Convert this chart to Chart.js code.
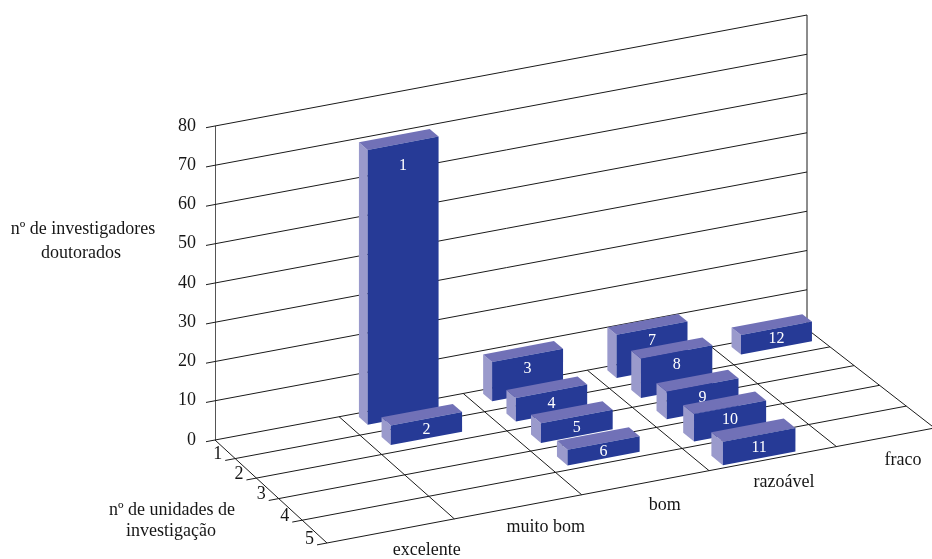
<!DOCTYPE html>
<html>
<head>
<meta charset="utf-8">
<script src="https://cdn.jsdelivr.net/npm/chart.js@4.4.1/dist/chart.umd.min.js"></script>
<style>
  html, body { margin: 0; padding: 0; background: #ffffff; }
  canvas { display: block; }
</style>
</head>
<body>
<canvas id="chart" width="932" height="559"></canvas>
<script>
// Quality ratings laid out across the floor
const ratings = ['excelente', 'muito bom', 'bom', 'razoável', 'fraco'];
// Depth ticks: position of a research unit within its rating
const unitCountTicks = [1, 2, 3, 4, 5];
// Value ticks on the back wall
const researcherTicks = [0, 10, 20, 30, 40, 50, 60, 70, 80];
// One entry per research unit
const unitLabels = ['1', '2', '3', '4', '5', '6', '7', '8', '9', '10', '11', '12'];
const unitRating = [0, 0, 1, 1, 1, 1, 2, 2, 2, 2, 2, 3];
const unitRank = [1, 2, 1, 2, 3, 4, 1, 2, 3, 4, 5, 1];
const doctoralResearchers = [70, 5, 10, 6, 5, 4, 11, 10, 7, 7, 6, 5];

// ---- drawing style / projection settings ----
const FONT = '"Liberation Serif", "Times New Roman", serif';
const INK = '#161616';
const LINE = '#1a1a1a';
const FLOOR_U = 4.77;            // floor width in strip units
const WALL_SLOPE = -0.1875;      // rise of horizontal edges per pixel
const DEPTH_L = [22.4, 20.6];    // screen offset per depth row, left edge
const DEPTH_R = [25.5, 19.8];    // screen offset per depth row, right edge
const PERSP = 0.12;              // rows grow slightly toward the viewer
const ROWS = 5;
const STRIP_SHIFT = 1;           // bars stand one strip to the right of their rating label
const BAR = { inset: 0.13, width: 0.57, front: 0.4, drift: 0.075, depth: 0.42 };
const FACE = { front: '#263a96', top: '#7171b7', side: '#9a9acc' };
const LABEL_SPREAD = 0.93;       // spacing of rating labels, in strips
const LABEL_START = 0.13;

function depthScreen(t) {
  return (1 - PERSP) * t / (1 - PERSP * t / ROWS);
}

function project(chart, u, t, v) {
  const xs = chart.scales.x, ys = chart.scales.y;
  const base = ys.getPixelForValue(0);
  const x0 = xs.getPixelForValue(u);
  const y0 = base + WALL_SLOPE * (x0 - xs.left);
  const f = u / FLOOR_U;
  const dx = DEPTH_L[0] + (DEPTH_R[0] - DEPTH_L[0]) * f;
  const dy = DEPTH_L[1] + (DEPTH_R[1] - DEPTH_L[1]) * f;
  const s = depthScreen(t);
  return { x: x0 + s * dx, y: y0 + s * dy - (base - ys.getPixelForValue(v)) };
}

function seg(ctx, a, b) {
  ctx.beginPath();
  ctx.moveTo(a.x, a.y);
  ctx.lineTo(b.x, b.y);
  ctx.stroke();
}

function poly(ctx, pts, fill) {
  ctx.beginPath();
  ctx.moveTo(pts[0].x, pts[0].y);
  for (let i = 1; i < pts.length; i++) ctx.lineTo(pts[i].x, pts[i].y);
  ctx.closePath();
  ctx.fillStyle = fill;
  ctx.fill();
}

const box3d = {
  id: 'box3d',
  beforeDatasetsDraw(chart) {
    const ctx = chart.ctx;
    ctx.save();
    ctx.strokeStyle = LINE;
    ctx.lineWidth = 1;

    // back wall gridlines, each with a short tick past the value axis
    researcherTicks.forEach(v => {
      const a = project(chart, 0, 0, v);
      const b = project(chart, FLOOR_U, 0, v);
      seg(ctx, { x: a.x - 9, y: a.y - WALL_SLOPE * 9 }, b);
    });
    // right edge of the wall
    seg(ctx, project(chart, FLOOR_U, 0, researcherTicks[researcherTicks.length - 1]), project(chart, FLOOR_U, 0, 0));

    // floor: depth rows with ticks, side edges, strip dividers
    unitCountTicks.forEach(t => {
      const a = project(chart, 0, t, 0);
      const b = project(chart, FLOOR_U, t, 0);
      seg(ctx, { x: a.x - 10, y: a.y - WALL_SLOPE * 10 }, b);
    });
    seg(ctx, project(chart, 0, 0, 0), project(chart, 0, ROWS, 0));
    seg(ctx, project(chart, FLOOR_U, 0, 0), project(chart, FLOOR_U, ROWS, 0));
    for (let k = 1; k < ratings.length; k++) {
      seg(ctx, project(chart, k, 0, 0), project(chart, k, ROWS, 0));
    }

    ctx.fillStyle = INK;
    ctx.font = '18px ' + FONT;

    // depth tick labels
    ctx.textAlign = 'right';
    ctx.textBaseline = 'middle';
    unitCountTicks.forEach(t => {
      const a = project(chart, 0, t, 0);
      ctx.fillText(String(t), a.x - 13, a.y - 4);
    });

    // rating labels in front of the floor
    ctx.textAlign = 'center';
    ratings.forEach((name, i) => {
      const uc = LABEL_START + (i + 0.5) * LABEL_SPREAD;
      const p = project(chart, uc, ROWS + 0.9, 0);
      ctx.fillText(name, p.x, p.y);
    });

    // axis titles
    const area = chart.chartArea;
    ctx.fillText('nº de investigadores', area.left - 132, 229);
    ctx.fillText('doutorados', area.left - 134, 253);
    ctx.fillText('nº de unidades de', area.left - 43, 510);
    ctx.fillText('investigação', area.left - 44, 531);
    ctx.restore();
  },
  afterDatasetsDraw(chart) {
    const ctx = chart.ctx;
    ctx.save();
    const order = doctoralResearchers.map((v, i) => i)
      .sort((a, b) => unitRank[a] - unitRank[b] || unitRating[a] - unitRating[b]);
    order.forEach(i => {
      const v = doctoralResearchers[i];
      const u1 = unitRating[i] + STRIP_SHIFT + BAR.inset;
      const u2 = u1 + BAR.width;
      const r = unitRank[i];
      const tf = r - BAR.front + BAR.drift * (r - 1);
      const tb = tf - BAR.depth;
      const P = (u, t, val) => project(chart, u, t, val);
      poly(ctx, [P(u1, tb, 0), P(u1, tf, 0), P(u1, tf, v), P(u1, tb, v)], FACE.side);
      poly(ctx, [P(u1, tb, v), P(u2, tb, v), P(u2, tf, v), P(u1, tf, v)], FACE.top);
      poly(ctx, [P(u1, tf, 0), P(u2, tf, 0), P(u2, tf, v), P(u1, tf, v)], FACE.front);

      // unit number on the front face, near its top
      const topMid = P((u1 + u2) / 2, tf, v);
      const h = P((u1 + u2) / 2, tf, 0).y - topMid.y;
      const off = Math.max(Math.min(h / 2, 12), h * 0.08);
      ctx.fillStyle = '#ffffff';
      ctx.font = '16px ' + FONT;
      ctx.textAlign = 'center';
      ctx.textBaseline = 'middle';
      ctx.fillText(unitLabels[i], topMid.x, topMid.y + off + 1);
    });
    ctx.restore();
  }
};

new Chart(document.getElementById('chart').getContext('2d'), {
  type: 'scatter',
  data: {
    datasets: [{
      label: 'nº de investigadores doutorados',
      data: doctoralResearchers.map((v, i) => ({
        x: unitRating[i] + STRIP_SHIFT + BAR.inset + BAR.width / 2,
        y: v
      })),
      pointRadius: 0,
      pointHoverRadius: 0
    }]
  },
  options: {
    responsive: false,
    animation: false,
    events: [],
    layout: { padding: { left: 0, top: 126, right: 125, bottom: 119 } },
    plugins: { legend: { display: false }, tooltip: { enabled: false } },
    scales: {
      x: { type: 'linear', min: 0, max: FLOOR_U, display: false },
      y: {
        type: 'linear',
        min: researcherTicks[0],
        max: researcherTicks[researcherTicks.length - 1],
        afterFit(scale) { scale.width = 215; },
        afterBuildTicks(scale) { scale.ticks = researcherTicks.map(v => ({ value: v })); },
        grid: { display: false, drawTicks: false },
        border: { display: true, color: '#555555', width: 1 },
        ticks: { padding: 19, color: INK, font: { family: FONT, size: 18 } }
      }
    }
  },
  plugins: [box3d]
});
</script>
</body>
</html>
